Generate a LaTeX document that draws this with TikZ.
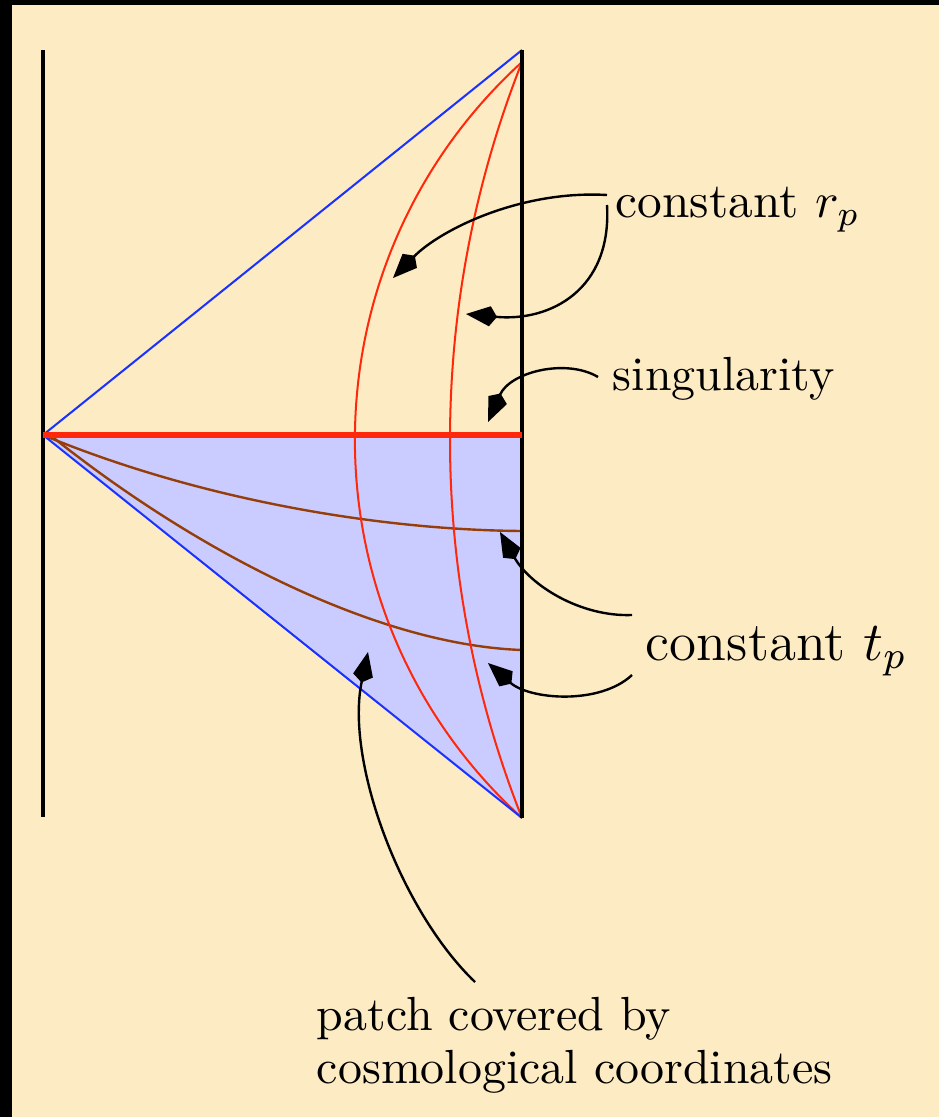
\RequirePackage{fix-cm}
\documentclass[tikz,border=0pt]{standalone}
\usetikzlibrary{arrows.meta}
\definecolor{cream}{RGB}{253,235,196}
\definecolor{lav}{RGB}{202,204,255}
\definecolor{myblue}{RGB}{25,50,255}
\definecolor{myred}{RGB}{255,40,10}
\definecolor{mybrown}{RGB}{150,62,10}
\tikzset{
  wall/.style={line width=0.95pt, black},
  light/.style={line width=0.42pt, myblue},
  rcurve/.style={line width=0.42pt, myred},
  tcurve/.style={line width=0.5pt, mybrown},
  sing/.style={line width=1.05pt, myred},
  pointer/.style={line width=0.5pt, black, -{Kite[length=6.5pt,width=4.2pt,inset=1.5pt]}},
  lbl/.style={anchor=base west, inner sep=0pt, text=black}
}
\begin{document}
\begin{tikzpicture}[x=0.2087pt, y=-0.2087pt]
\useasboundingbox (0,0) rectangle (939,1117);
\fill[black] (0,0) rectangle (939,1117);
\fill[cream] (11.5,4.7) rectangle (939,1117);

% key points
\coordinate (L) at (43,435);
\coordinate (R) at (522,435);
\coordinate (RT) at (522,50);
\coordinate (RB) at (522,818);
\coordinate (LT) at (43,50);
\coordinate (LB) at (43,817);
\coordinate (RT2) at (522,62);

% patch fill
\fill[lav] (L) -- (R) -- (RB) -- cycle;

% constant t_p curves
\draw[tcurve] (L) .. controls (200,500) and (380,530) .. (522,531);
\draw[tcurve] (50,435) .. controls (200,555) and (380,645) .. (522,650);

% constant r_p curves
\draw[rcurve] (RT2) .. controls (299.2,264.9) and (299.2,615.1) .. (RB);
\draw[rcurve] (RT2) .. controls (426,304.9) and (426,575.1) .. (RB);

% light cones
\draw[light] (L) -- (RT);
\draw[light] (L) -- (RB);

% walls
\draw[wall] (LT) -- (LB);
\draw[wall] (RT) -- (RB);

% singularity
\draw[sing] (L) -- (R);

% labels
\node[lbl, font=\fontsize{10.3}{12}\selectfont] (rp) at (615,218) {constant $r_p$};
\node[lbl, font=\fontsize{10}{12}\selectfont] (sg) at (612,390) {singularity};
\node[lbl, font=\fontsize{11.5}{13}\selectfont] (tp) at (645,660) {constant $t_p$};
\node[lbl, font=\fontsize{10}{12}\selectfont] (pa) at (316,1030) {patch covered by};
\node[lbl, font=\fontsize{10}{12}\selectfont] (pb) at (316,1083) {cosmological coordinates};

% arrow anchors
\coordinate (a1s) at (607,195);
\coordinate (a1e) at (393,278);
\coordinate (a2s) at (607,205);
\coordinate (a2e) at (466,314);
\coordinate (a3s) at (598,377);
\coordinate (a3e) at (488,422);
\coordinate (a4s) at (632,615);
\coordinate (a4e) at (500,532);
\coordinate (a5s) at (632,675);
\coordinate (a5e) at (488,663);
\coordinate (a6s) at (475,982);
\coordinate (a6e) at (368,652);

\draw[pointer] (a1s) .. controls (520,190) and (440,230) .. (a1e);
\draw[pointer] (a2s) .. controls (612,290) and (550,322) .. (a2e);
\draw[pointer] (a3s) .. controls (566,358) and (510,372) .. (a3e);
\draw[pointer] (a4s) .. controls (580,617) and (530,585) .. (a4e);
\draw[pointer] (a5s) .. controls (600,705) and (530,700) .. (a5e);
\draw[pointer] (a6s) .. controls (400,910) and (345,760) .. (a6e);
\end{tikzpicture}
\end{document}
